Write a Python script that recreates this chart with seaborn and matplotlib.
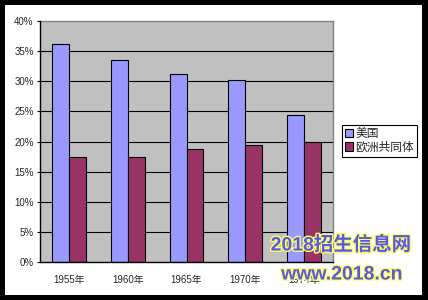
import matplotlib
matplotlib.use("Agg")
import matplotlib.pyplot as plt
import matplotlib.patheffects as pe
from matplotlib.patches import Rectangle
from matplotlib.ticker import PercentFormatter, FixedLocator
import seaborn as sns
import pandas as pd

years = ['1955年', '1960年', '1965年', '1970年', '1974年']
us = [0.361, 0.336, 0.312, 0.302, 0.244]
ec = [0.175, 0.175, 0.187, 0.194, 0.200]
series = ['美国', '欧洲共同体']
colors = ['#9999FF', '#993366']
yticks = [0, 0.05, 0.10, 0.15, 0.20, 0.25, 0.30, 0.35, 0.40]

df = pd.DataFrame({
    'year': years * 2,
    'value': us + ec,
    'series': [series[0]] * len(years) + [series[1]] * len(years),
})

sns.set_style('white')
plt.rcParams['font.family'] = ['Liberation Sans', 'Noto Sans CJK SC', 'DejaVu Sans']

W, H = 428, 300
fig = plt.figure(figsize=(W / 100, H / 100), dpi=100)
fig.patch.set_facecolor('black')
fig.patches.append(Rectangle((5 / W, 5 / H), 417 / W, 290 / H, transform=fig.transFigure,
                             facecolor='white', edgecolor='none', zorder=-5))

ax = fig.add_axes([40 / W, 38 / H, 293 / W, 241 / H])
ax.set_zorder(2)
ax.set_facecolor('#C0C0C0')

sns.barplot(data=df, x='year', y='value', hue='series', hue_order=series,
            palette=colors, width=0.58, gap=0, edgecolor='black', linewidth=0.8,
            saturation=1, ax=ax, zorder=3, legend=True)

ax.set_xlim(-0.5, 4.5)
ax.set_ylim(0, 0.40)
ax.set_xlabel('')
ax.set_ylabel('')
ax.yaxis.set_major_locator(FixedLocator(yticks))
ax.yaxis.set_major_formatter(PercentFormatter(1.0, decimals=0))
for y in yticks[1:-1]:
    ax.axhline(y, color='black', linewidth=0.8, zorder=1)

ax.xaxis.set_minor_locator(FixedLocator([0.5, 1.5, 2.5, 3.5]))
ax.tick_params(axis='x', which='major', length=0, pad=9, labelsize=7)
ax.tick_params(axis='x', which='minor', direction='in', length=2.5, width=0.8, color='black')
ax.tick_params(axis='y', which='major', direction='out', length=2.5, width=0.8, color='black',
               labelsize=7, pad=2, left=True)

for side in ['left', 'bottom']:
    ax.spines[side].set_color('black')
    ax.spines[side].set_linewidth(1.0)
    ax.spines[side].set_zorder(4)
for side in ['top', 'right']:
    ax.spines[side].set_color('#808080')
    ax.spines[side].set_linewidth(1.0)
    ax.spines[side].set_visible(True)

handles, labels = ax.get_legend_handles_labels()
ax.legend(handles, labels, loc='upper left', bbox_to_anchor=(342 / W, 1 - 125 / H),
          bbox_transform=fig.transFigure, frameon=True, fancybox=False,
          edgecolor='black', framealpha=1, facecolor='white', prop={'size': 8.5},
          handlelength=0.7, handleheight=0.7, handletextpad=0.2, borderpad=0.25,
          labelspacing=0.15, borderaxespad=0)
ax.get_legend().get_frame().set_linewidth(0.8)

stroke = [pe.withStroke(linewidth=2, foreground='#FFFF66')]
fig.text(341 / W, 1 - 245 / H, '2018招生信息网', ha='center', va='center', fontsize=14,
         fontweight='bold', color='#5858E8', path_effects=stroke,
         family=['Liberation Sans', 'Noto Sans CJK SC'], zorder=10)
fig.text(342 / W, 1 - 275 / H, 'www.2018.cn', ha='center', va='center', fontsize=14,
         fontweight='bold', color='#5858E8', path_effects=stroke,
         family=['Liberation Sans', 'Noto Sans CJK SC'], zorder=10)

fig.savefig('out.png', dpi=100, facecolor=fig.get_facecolor())
